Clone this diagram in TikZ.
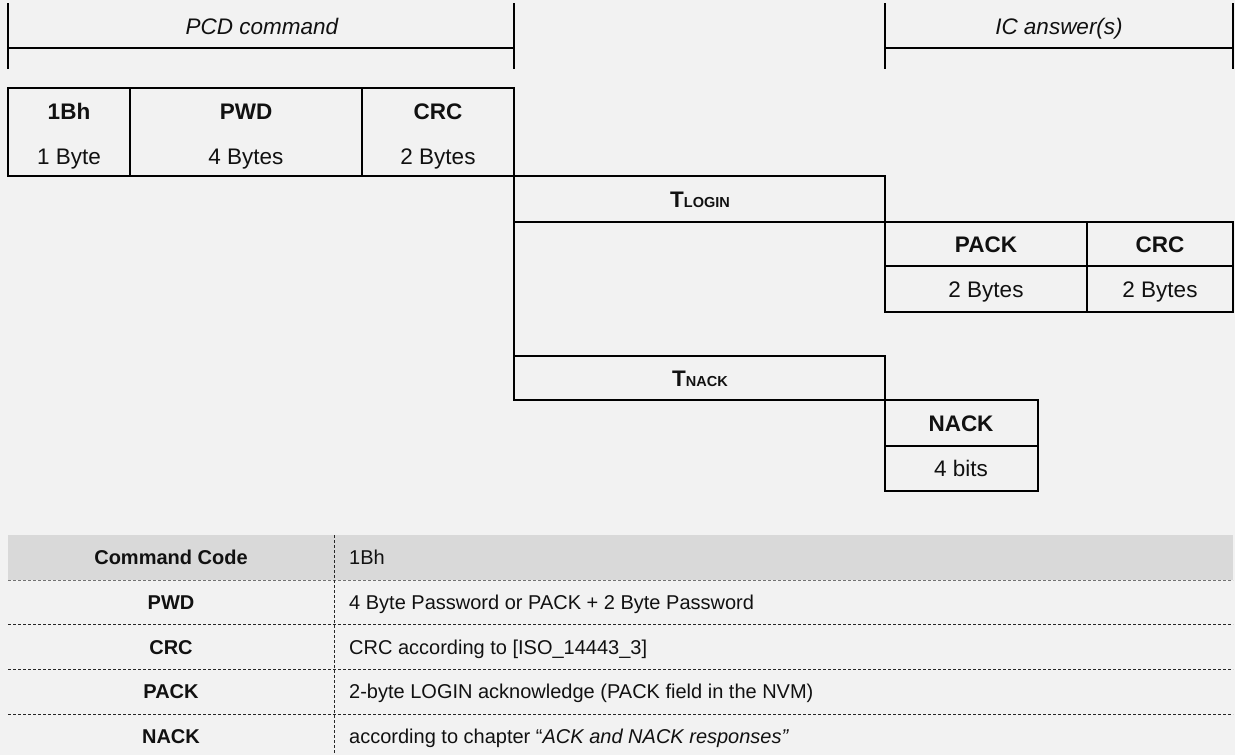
\documentclass[tikz,border=0pt]{standalone}
\usepackage{fontspec}
\setmainfont{Liberation Sans}
\definecolor{bgc}{HTML}{F2F2F2}
\definecolor{hdrc}{HTML}{D9D9D9}
\definecolor{txtc}{HTML}{111111}
\begin{document}
\begin{tikzpicture}[x=1pt,y=-1pt,
  frame/.style={line width=2pt, line cap=rect},
  txt/.style={inner sep=0pt, anchor=base, text=txtc, font=\fontsize{22.5}{26}\selectfont},
  btxt/.style={inner sep=0pt, anchor=base, text=txtc, font=\fontsize{22.5}{26}\selectfont\bfseries},
  itxt/.style={inner sep=0pt, anchor=base, text=txtc, font=\fontsize{22.5}{26}\selectfont\itshape},
  tbtxt/.style={inner sep=0pt, anchor=base, text=txtc, font=\fontsize{20}{24}\selectfont\bfseries},
  ltxt/.style={inner sep=0pt, anchor=base west, text=txtc, font=\fontsize{20}{24}\selectfont},
  dashline/.style={line width=1pt, dash pattern=on 3pt off 2pt, draw=black!85}
]
\fill[bgc] (0,0) rectangle (1235,755);
\useasboundingbox (0,0) rectangle (1235,755);

% top brackets
\draw[frame] (8,4) -- (8,68);
\draw[frame] (514,4) -- (514,68);
\draw[frame] (8,48) -- (514,48);
\node[itxt] (pcd) at (262,34) {PCD command};
\draw[frame] (885,4) -- (885,68);
\draw[frame] (1233,4) -- (1233,68);
\draw[frame] (885,48) -- (1233,48);
\node[itxt] (ic) at (1059,34) {IC answer(s)};

% command frame
\draw[frame] (8,88) rectangle (514,176);
\draw[frame] (130,88) -- (130,176);
\draw[frame] (362,88) -- (362,176);
\node[btxt] (c1) at (69,119) {1Bh};
\node[btxt] (c2) at (246,119) {PWD};
\node[btxt] (c3) at (438,119) {CRC};
\node[txt] (c1b) at (69,164) {1 Byte};
\node[txt] (c2b) at (246,164) {4 Bytes};
\node[txt] (c3b) at (438,164) {2 Bytes};

% timeline
\draw[frame] (514,176) -- (514,400);
\draw[frame] (514,176) -- (885,176) -- (885,222);
\draw[frame] (514,222) -- (1233,222);
\node[btxt] (tlogin) at (700,207) {T{\fontsize{14.5}{16}\selectfont LOGIN}};

% answer PACK
\draw[frame] (885,222) rectangle (1233,312);
\draw[frame] (885,266) -- (1233,266);
\draw[frame] (1087,222) -- (1087,312);
\node[btxt] (p1) at (986,252) {PACK};
\node[btxt] (p2) at (1160,252) {CRC};
\node[txt] (p1b) at (986,297) {2 Bytes};
\node[txt] (p2b) at (1160,297) {2 Bytes};

% TNACK
\draw[frame] (514,356) -- (885,356) -- (885,400);
\draw[frame] (514,400) -- (1038,400);
\node[btxt] (tnack) at (700,386) {T{\fontsize{14.5}{16}\selectfont NACK}};

% NACK
\draw[frame] (885,400) rectangle (1038,491);
\draw[frame] (885,446) -- (1038,446);
\node[btxt] (n1) at (961,431) {NACK};
\node[txt] (n1b) at (961,476.5) {4 bits};

% table
\fill[hdrc] (8,535) rectangle (1233,580);
\draw[dashline, draw=black!55] (8,580) -- (1233,580);
\draw[dashline] (8,624.7) -- (1233,624.7);
\draw[dashline] (8,669.3) -- (1233,669.3);
\draw[dashline] (8,714) -- (1233,714);
\draw[dashline] (334,535) -- (334,755);
\node[tbtxt] (h1) at (171,564.5) {Command Code};
\node[ltxt] (h2) at (349,564.5) {1Bh};
\node[tbtxt] (r1) at (171,609) {PWD};
\node[ltxt] (r1b) at (349,609) {4 Byte Password or PACK + 2 Byte Password};
\node[tbtxt] (r2) at (171,654) {CRC};
\node[ltxt] (r2b) at (349,654) {CRC according to [ISO\_14443\_3]};
\node[tbtxt] (r3) at (171,698.5) {PACK};
\node[ltxt] (r3b) at (349,698.5) {2-byte LOGIN acknowledge (PACK field in the NVM)};
\node[tbtxt] (r4) at (171,743) {NACK};
\node[ltxt] (r4b) at (349,743) {according to chapter “\textit{ACK and NACK responses”}};
\end{tikzpicture}
\end{document}
